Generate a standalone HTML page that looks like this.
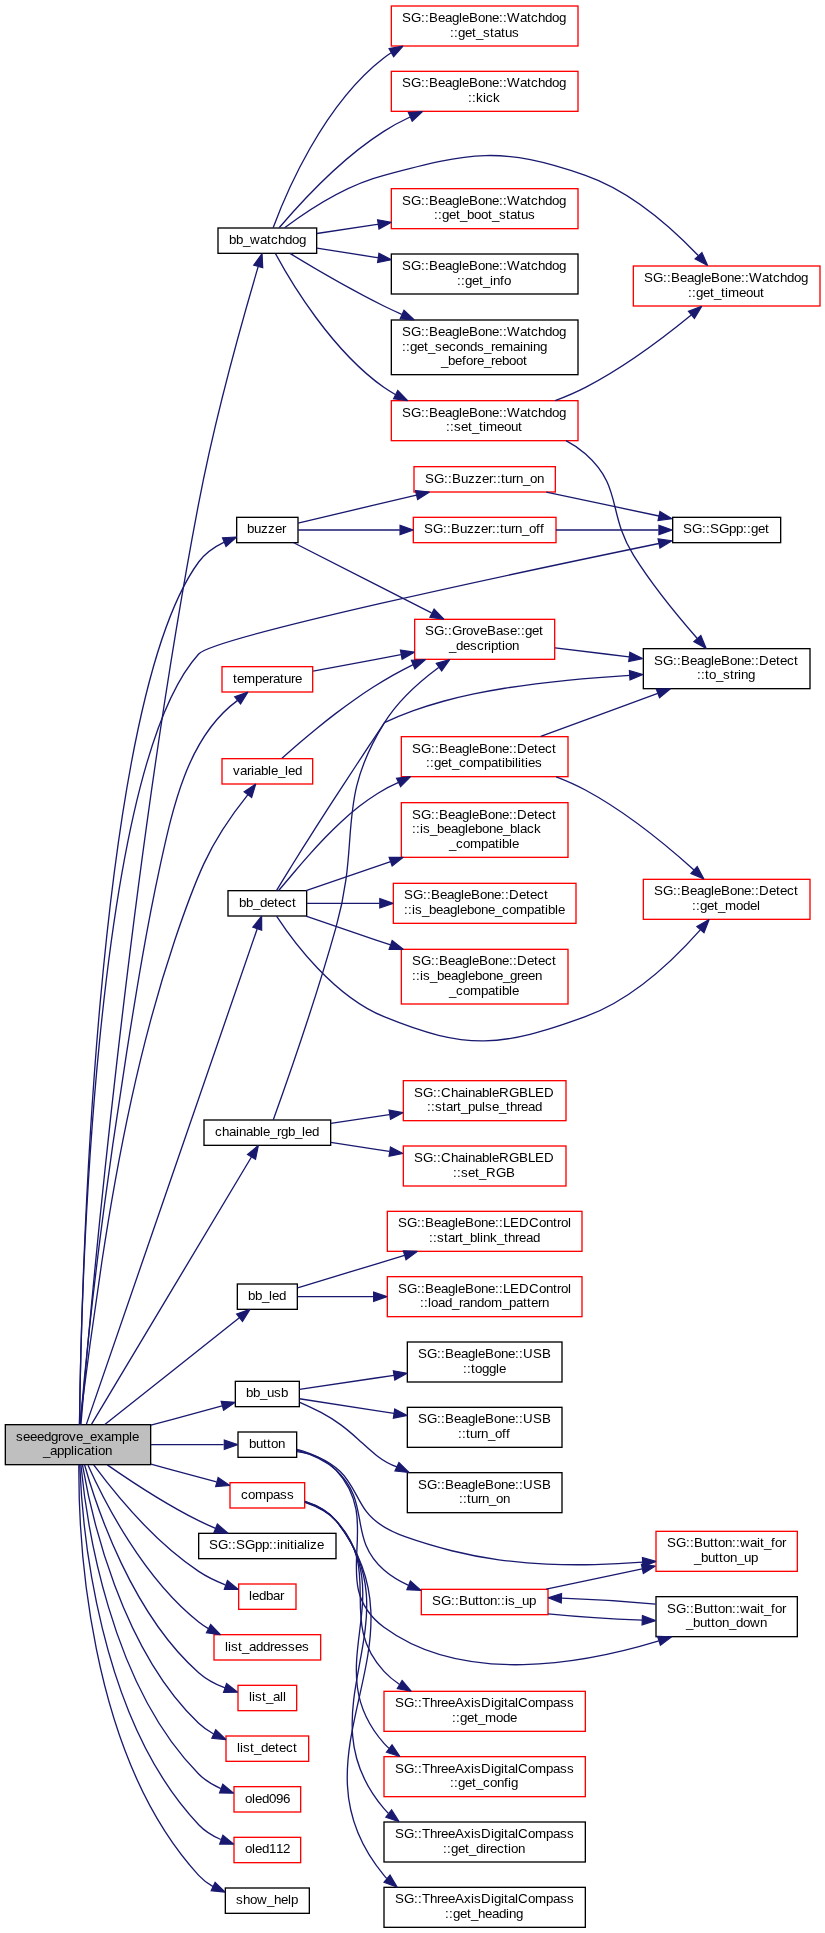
<!DOCTYPE html>
<html lang="en">
<head>
<meta charset="utf-8">
<title>seeedgrove_example_application</title>
<style>
html,body{margin:0;padding:0;background:#fff}
body{width:825px;height:1933px;overflow:hidden}
svg{display:block;will-change:transform}
text{font-family:"Liberation Sans",sans-serif;font-size:13.33px;fill:#000;white-space:pre}
.e path{fill:none;stroke:#191970;stroke-width:1.33}
.e polygon{fill:#191970;stroke:#191970;stroke-width:1.2;stroke-miterlimit:2}
.n rect{stroke-width:1.33}
</style>
</head>
<body>
<svg width="825" height="1933" viewBox="0 0 825 1933">
<rect x="0" y="0" width="825" height="1933" fill="#fff"/>
<g class="n">
<rect x="5.33" y="1424.67" width="145.33" height="40" fill="#bfbfbf" stroke="#000"/>
<text x="16 23 30 37 44 51 58 62 69 76 83 90 97 104 111 122 129 132" y="1440.67">seeedgrove_example</text>
<text x="43 50 57 64 71 74 77 84 91 95 98 105" y="1455.33">_application</text>
<rect x="218" y="228" width="98.67" height="25.33" fill="white" stroke="#000"/>
<text x="229 236 243 250 260 267 271 278 285 292 299" y="244">bb_watchdog</text>
<rect x="236.67" y="517.33" width="61.33" height="25.33" fill="white" stroke="#000"/>
<text x="247 254 261 268 275 282" y="533.33">buzzer</text>
<rect x="672.67" y="517.33" width="108" height="25.33" fill="white" stroke="#000"/>
<text x="683 692 702 706 710 719 729 736 743 747 751 758 765" y="533.33">SG::SGpp::get</text>
<rect x="222" y="666.67" width="90.67" height="25.33" fill="white" stroke="#f00"/>
<text x="233 237 244 255 262 269 273 280 284 291 295" y="682.67">temperature</text>
<rect x="222" y="758.67" width="90.67" height="25.33" fill="white" stroke="#f00"/>
<text x="233 240 247 251 254 261 268 271 278 285 288 295" y="774.67">variable_led</text>
<rect x="228" y="890.67" width="78.67" height="25.33" fill="white" stroke="#000"/>
<text x="239 246 253 260 267 274 278 285 292" y="906.67">bb_detect</text>
<rect x="204" y="1120" width="126.67" height="25.33" fill="white" stroke="#000"/>
<text x="215 222 229 236 239 246 253 260 263 270 277 281 288 295 302 305 312" y="1136">chainable_rgb_led</text>
<rect x="237.33" y="1284" width="60" height="25.33" fill="white" stroke="#000"/>
<text x="248 255 262 269 272 279" y="1300">bb_led</text>
<rect x="235.33" y="1381.33" width="64" height="25.33" fill="white" stroke="#000"/>
<text x="246 253 260 267 274 281" y="1397.33">bb_usb</text>
<rect x="238" y="1432" width="58.67" height="25.33" fill="white" stroke="#000"/>
<text x="249 256 263 267 271 278" y="1448">button</text>
<rect x="230" y="1482.67" width="74.67" height="25.33" fill="white" stroke="#f00"/>
<text x="241 248 255 266 273 280 287" y="1498.67">compass</text>
<rect x="198.67" y="1533.33" width="137.33" height="25.33" fill="white" stroke="#000"/>
<text x="209 218 228 232 236 245 255 262 269 273 277 280 287 290 294 297 304 307 310 317" y="1549.33">SG::SGpp::initialize</text>
<rect x="238.67" y="1584" width="57.33" height="25.33" fill="white" stroke="#f00"/>
<text x="249 252 259 266 273 280" y="1600">ledbar</text>
<rect x="214" y="1634.67" width="106.67" height="25.33" fill="white" stroke="#f00"/>
<text x="225 228 231 238 242 249 256 263 270 274 281 288 295 302" y="1650.67">list_addresses</text>
<rect x="238" y="1685.33" width="58.67" height="25.33" fill="white" stroke="#f00"/>
<text x="249 252 255 262 266 273 280 283" y="1701.33">list_all</text>
<rect x="226" y="1736" width="82.67" height="25.33" fill="white" stroke="#f00"/>
<text x="237 240 243 250 254 261 268 275 279 286 293" y="1752">list_detect</text>
<rect x="234" y="1786.67" width="66.67" height="25.33" fill="white" stroke="#f00"/>
<text x="245 252 255 262 269 276 283" y="1802.67">oled096</text>
<rect x="234" y="1837.33" width="66.67" height="25.33" fill="white" stroke="#f00"/>
<text x="245 252 255 262 269 276 283" y="1853.33">oled112</text>
<rect x="225.33" y="1888" width="84" height="25.33" fill="white" stroke="#000"/>
<text x="236 243 250 257 267 274 281 288 291" y="1904">show_help</text>
<rect x="391.33" y="6" width="186.67" height="40" fill="white" stroke="#f00"/>
<text x="402 411 421 425 429 438 445 452 459 462 469 478 485 492 499 503 507 520 527 531 538 545 552 559" y="22">SG::BeagleBone::Watchdog</text>
<text x="450 454 458 465 472 476 483 490 494 501 505 512" y="36.67">::get_status</text>
<rect x="391.33" y="71.33" width="186.67" height="40" fill="white" stroke="#f00"/>
<text x="402 411 421 425 429 438 445 452 459 462 469 478 485 492 499 503 507 520 527 531 538 545 552 559" y="87.33">SG::BeagleBone::Watchdog</text>
<text x="468 472 476 483 486 493" y="102">::kick</text>
<rect x="633.33" y="266" width="186.67" height="40" fill="white" stroke="#f00"/>
<text x="644 653 663 667 671 680 687 694 701 704 711 720 727 734 741 745 749 762 769 773 780 787 794 801" y="282">SG::BeagleBone::Watchdog</text>
<text x="688 692 696 703 710 714 721 725 728 739 746 753 760" y="296.67">::get_timeout</text>
<rect x="391.33" y="188.67" width="186.67" height="40" fill="white" stroke="#f00"/>
<text x="402 411 421 425 429 438 445 452 459 462 469 478 485 492 499 503 507 520 527 531 538 545 552 559" y="204.67">SG::BeagleBone::Watchdog</text>
<text x="434 438 442 449 456 460 467 474 481 488 492 499 506 510 517 521 528" y="219.33">::get_boot_status</text>
<rect x="391.33" y="254" width="186.67" height="40" fill="white" stroke="#000"/>
<text x="402 411 421 425 429 438 445 452 459 462 469 478 485 492 499 503 507 520 527 531 538 545 552 559" y="270">SG::BeagleBone::Watchdog</text>
<text x="457 461 465 472 479 483 490 493 500 504" y="284.67">::get_info</text>
<rect x="391.33" y="320" width="186.67" height="54.67" fill="white" stroke="#000"/>
<text x="402 411 421 425 429 438 445 452 459 462 469 478 485 492 499 503 507 520 527 531 538 545 552 559" y="336">SG::BeagleBone::Watchdog</text>
<text x="402 406 410 417 424 428 435 442 449 456 463 470 477 484 491 495 502 513 520 523 530 533 540" y="350.67">::get_seconds_remaining</text>
<text x="441 448 455 462 466 473 477 484 491 495 502 509 516 523" y="365.33">_before_reboot</text>
<rect x="391.33" y="400.67" width="186.67" height="40" fill="white" stroke="#f00"/>
<text x="402 411 421 425 429 438 445 452 459 462 469 478 485 492 499 503 507 520 527 531 538 545 552 559" y="416.67">SG::BeagleBone::Watchdog</text>
<text x="446 450 454 461 468 472 479 483 486 497 504 511 518" y="431.33">::set_timeout</text>
<rect x="643.33" y="648.67" width="166.67" height="40" fill="white" stroke="#000"/>
<text x="654 663 673 677 681 690 697 704 711 714 721 730 737 744 751 755 759 769 776 780 787 794" y="664.67">SG::BeagleBone::Detect</text>
<text x="697 701 705 709 716 723 730 734 738 741 748" y="679.33">::to_string</text>
<rect x="414" y="466.67" width="141.33" height="25.33" fill="white" stroke="#f00"/>
<text x="425 434 444 448 452 461 468 475 482 489 493 497 501 505 512 516 523 530 537" y="482.67">SG::Buzzer::turn_on</text>
<rect x="413.33" y="517.33" width="142.67" height="25.33" fill="white" stroke="#f00"/>
<text x="424 433 443 447 451 460 467 474 481 488 492 496 500 504 511 515 522 529 536 540" y="533.33">SG::Buzzer::turn_off</text>
<rect x="414.67" y="619.33" width="140" height="40" fill="white" stroke="#f00"/>
<text x="425 434 444 448 452 462 466 473 480 487 496 503 510 517 521 525 532 539" y="635.33">SG::GroveBase::get</text>
<text x="449 456 463 470 477 484 488 491 498 502 505 512" y="650">_description</text>
<rect x="401.33" y="736.67" width="166.67" height="40" fill="white" stroke="#f00"/>
<text x="412 421 431 435 439 448 455 462 469 472 479 488 495 502 509 513 517 527 534 538 545 552" y="752.67">SG::BeagleBone::Detect</text>
<text x="426 430 434 441 448 452 459 466 473 484 491 498 502 505 512 515 518 521 525 528 535" y="767.33">::get_compatibilities</text>
<rect x="643.33" y="879.33" width="166.67" height="40" fill="white" stroke="#f00"/>
<text x="654 663 673 677 681 690 697 704 711 714 721 730 737 744 751 755 759 769 776 780 787 794" y="895.33">SG::BeagleBone::Detect</text>
<text x="692 696 700 707 714 718 725 736 743 750 757" y="910">::get_model</text>
<rect x="401.33" y="802.67" width="166.67" height="54.67" fill="white" stroke="#f00"/>
<text x="412 421 431 435 439 448 455 462 469 472 479 488 495 502 509 513 517 527 534 538 545 552" y="818.67">SG::BeagleBone::Detect</text>
<text x="412 416 420 423 430 437 444 451 458 465 468 475 482 489 496 503 510 517 520 527 534" y="833.33">::is_beaglebone_black</text>
<text x="449 456 463 470 481 488 495 499 502 509 512" y="848">_compatible</text>
<rect x="393.33" y="883.33" width="182.67" height="40" fill="white" stroke="#f00"/>
<text x="404 413 423 427 431 440 447 454 461 464 471 480 487 494 501 505 509 519 526 530 537 544" y="899.33">SG::BeagleBone::Detect</text>
<text x="404 408 412 415 422 429 436 443 450 457 460 467 474 481 488 495 502 509 516 527 534 541 545 548 555 558" y="914">::is_beaglebone_compatible</text>
<rect x="401.33" y="949.33" width="166.67" height="54.67" fill="white" stroke="#f00"/>
<text x="412 421 431 435 439 448 455 462 469 472 479 488 495 502 509 513 517 527 534 538 545 552" y="965.33">SG::BeagleBone::Detect</text>
<text x="412 416 420 423 430 437 444 451 458 465 468 475 482 489 496 503 510 517 521 528 535" y="980">::is_beaglebone_green</text>
<text x="449 456 463 470 481 488 495 499 502 509 512" y="994.67">_compatible</text>
<rect x="403.33" y="1080.67" width="162.67" height="40" fill="white" stroke="#f00"/>
<text x="414 423 433 437 441 451 458 465 468 475 482 489 492 499 509 519 528 535 544" y="1096.67">SG::ChainableRGBLED</text>
<text x="427 431 435 442 446 453 457 461 468 475 482 485 492 499 506 510 517 521 528 535" y="1111.33">::start_pulse_thread</text>
<rect x="403.33" y="1146" width="162.67" height="40" fill="white" stroke="#f00"/>
<text x="414 423 433 437 441 451 458 465 468 475 482 489 492 499 509 519 528 535 544" y="1162">SG::ChainableRGBLED</text>
<text x="453 457 461 468 475 479 486 496 506" y="1176.67">::set_RGB</text>
<rect x="387.33" y="1211.33" width="194.67" height="40" fill="white" stroke="#f00"/>
<text x="398 407 417 421 425 434 441 448 455 458 465 474 481 488 495 499 503 510 519 529 539 546 553 557 561 568" y="1227.33">SG::BeagleBone::LEDControl</text>
<text x="429 433 437 444 448 455 459 463 470 477 480 483 490 497 504 508 515 519 526 533" y="1242">::start_blink_thread</text>
<rect x="387.33" y="1276.67" width="194.67" height="40" fill="white" stroke="#f00"/>
<text x="398 407 417 421 425 434 441 448 455 458 465 474 481 488 495 499 503 510 519 529 539 546 553 557 561 568" y="1292.67">SG::BeagleBone::LEDControl</text>
<text x="420 424 428 431 438 445 452 459 463 470 477 484 491 502 509 516 523 527 531 538 542" y="1307.33">::load_random_pattern</text>
<rect x="407.33" y="1342" width="154.67" height="40" fill="white" stroke="#000"/>
<text x="418 427 437 441 445 454 461 468 475 478 485 494 501 508 515 519 523 533 542" y="1358">SG::BeagleBone::USB</text>
<text x="463 467 471 475 482 489 496 499" y="1372.67">::toggle</text>
<rect x="407.33" y="1407.33" width="154.67" height="40" fill="white" stroke="#000"/>
<text x="418 427 437 441 445 454 461 468 475 478 485 494 501 508 515 519 523 533 542" y="1423.33">SG::BeagleBone::USB</text>
<text x="458 462 466 470 477 481 488 495 502 506" y="1438">::turn_off</text>
<rect x="407.33" y="1472.67" width="154.67" height="40" fill="white" stroke="#000"/>
<text x="418 427 437 441 445 454 461 468 475 478 485 494 501 508 515 519 523 533 542" y="1488.67">SG::BeagleBone::USB</text>
<text x="459 463 467 471 478 482 489 496 503" y="1503.33">::turn_on</text>
<rect x="656" y="1531.33" width="141.33" height="40" fill="white" stroke="#f00"/>
<text x="667 676 686 690 694 703 710 714 718 725 732 736 740 750 757 760 764 771 775 782" y="1547.33">SG::Button::wait_for</text>
<text x="694 701 708 715 719 723 730 737 744 751" y="1562">_button_up</text>
<rect x="421.33" y="1589.33" width="126.67" height="25.33" fill="white" stroke="#f00"/>
<text x="432 441 451 455 459 468 475 479 483 490 497 501 505 508 515 522 529" y="1605.33">SG::Button::is_up</text>
<rect x="656" y="1596.67" width="141.33" height="40" fill="white" stroke="#000"/>
<text x="667 676 686 690 694 703 710 714 718 725 732 736 740 750 757 760 764 771 775 782" y="1612.67">SG::Button::wait_for</text>
<text x="686 693 700 707 711 715 722 729 736 743 750 760" y="1627.33">_button_down</text>
<rect x="384" y="1691.33" width="201.33" height="40" fill="white" stroke="#f00"/>
<text x="395 404 414 418 422 430 437 441 448 455 464 471 474 481 491 494 501 504 508 515 518 528 535 546 553 560 567" y="1707.33">SG::ThreeAxisDigitalCompass</text>
<text x="452 456 460 467 474 478 485 496 503 510" y="1722">::get_mode</text>
<rect x="384" y="1756.67" width="201.33" height="40" fill="white" stroke="#f00"/>
<text x="395 404 414 418 422 430 437 441 448 455 464 471 474 481 491 494 501 504 508 515 518 528 535 546 553 560 567" y="1772.67">SG::ThreeAxisDigitalCompass</text>
<text x="450 454 458 465 472 476 483 490 497 504 508 511" y="1787.33">::get_config</text>
<rect x="384" y="1822" width="201.33" height="40" fill="white" stroke="#000"/>
<text x="395 404 414 418 422 430 437 441 448 455 464 471 474 481 491 494 501 504 508 515 518 528 535 546 553 560 567" y="1838">SG::ThreeAxisDigitalCompass</text>
<text x="443 447 451 458 465 469 476 483 486 490 497 504 508 511 518" y="1852.67">::get_direction</text>
<rect x="384" y="1887.33" width="201.33" height="40" fill="white" stroke="#000"/>
<text x="395 404 414 418 422 430 437 441 448 455 464 471 474 481 491 494 501 504 508 515 518 528 535 546 553 560 567" y="1903.33">SG::ThreeAxisDigitalCompass</text>
<text x="445 449 453 460 467 471 478 485 492 499 506 509 516" y="1918">::get_heading</text>
</g>
<g class="e">
<path d="M80.93,1424.65C89.13,1324.69 128.75,869.84 198.67,503.33 215.39,415.71 244.24,313.89 258.11,266.89"/><polygon points="253.77,265.11 262.05,253.65 262.72,267.76"/>
<path d="M79.52,1424.39C80.96,1306.48 93.41,705.7 198.67,562 205.05,553.25 214.45,546.8 224.23,542.09"/><polygon points="222.48,537.76 236.59,537 226.04,546.39"/>
<path d="M79.48,1424.41C80.67,1312.99 91.96,771.96 198.67,654 214.32,636.73 521.02,571.91 658.88,543.49"/><polygon points="658.07,538.89 672.07,540.77 659.95,548.04"/>
<path d="M80.2,1424.5C82.82,1393.35 85.84,1362.17 89.19,1330.99 92.53,1299.89 96.21,1268.78 100.17,1237.7 104.12,1206.64 108.35,1175.6 112.8,1144.62 117.26,1113.59 121.95,1082.62 126.79,1051.72 131.66,1020.75 136.62,989.86 142,959.03 147.38,928.26 153.2,897.54 159.89,866.81 166.54,836.25 173.34,805.15 184.42,776.22 195.61,747 211.42,719.57 237.64,700.4"/><polygon points="240.58,704.02 248,692 234.7,696.77"/>
<path d="M79.5,1424.6C83.01,1397.46 86.54,1370.24 90.24,1342.99 93.92,1315.83 97.76,1288.65 101.9,1261.51 106.03,1234.38 110.46,1207.3 115.32,1180.3 120.19,1153.28 125.49,1126.35 131.36,1099.56 137.24,1072.74 143.68,1046.07 150.84,1019.6 158,993.11 165.88,966.82 174.6,940.8 183.31,914.8 192.41,888.78 203.83,863.88 215.24,839.01 230.68,816.15 247.91,794.65"/><polygon points="251.67,797.41 255.8,783.9 244.15,791.88"/>
<path d="M86.43,1424.11C115.44,1340.17 225.11,1021.74 257.16,928.97"/><polygon points="252.85,927.15 261.61,916.07 261.68,930.19"/>
<path d="M91.59,1424.2C124.68,1368.88 215.81,1216.56 251.44,1156.99"/><polygon points="247.49,1154.51 258.35,1145.45 255.51,1159.29"/>
<path d="M104.51,1424.72C139.71,1396.86 203.35,1346.27 239.33,1317.8"/><polygon points="236.65,1314.05 249.97,1309.37 242.48,1321.34"/>
<path d="M150.97,1425.23C174.92,1418.72 200.89,1411.67 222.08,1405.92"/><polygon points="221.16,1401.33 235.25,1402.35 223.61,1410.35"/>
<path d="M150.97,1444.67C175.53,1444.67 202.21,1444.67 223.69,1444.67"/><polygon points="224.31,1440 237.64,1444.67 224.31,1449.33"/>
<path d="M150.97,1464.11C172.85,1470.05 196.43,1476.45 216.51,1481.89"/><polygon points="218.13,1477.51 229.77,1485.51 215.68,1486.51"/>
<path d="M107.29,1464.83C130.88,1481.24 165.93,1504.31 198.67,1520.67 204.03,1523.35 209.75,1525.91 215.49,1528.31"/><polygon points="217.35,1524.03 228.01,1533.28 213.91,1532.69"/>
<path d="M93.69,1464.95C114.15,1492.48 154.16,1541.69 198.67,1571.33 206.77,1576.73 216.17,1581.19 225.35,1584.77"/><polygon points="227.43,1580.57 238.43,1589.43 224.31,1589.36"/>
<path d="M88.01,1465.23C104.41,1501.76 143.36,1578.27 198.67,1622 201.69,1624.4 204.97,1626.59 208.4,1628.57"/><polygon points="210.65,1624.48 220.47,1634.64 206.45,1632.83"/>
<path d="M84.55,1464.79C96.91,1508.67 132.08,1613.76 198.67,1672.67 206.19,1679.32 215.64,1684.29 225.05,1687.99"/><polygon points="226.55,1683.57 237.68,1692.27 223.56,1692.41"/>
<path d="M82.44,1464.93C91.21,1515.59 120.88,1648.95 198.67,1723.33 203.05,1727.52 208.2,1731.04 213.65,1733.97"/><polygon points="215.71,1729.79 225.92,1739.55 211.85,1738.29"/>
<path d="M80.89,1464.75C86.33,1521.29 109.35,1683.57 198.67,1774 204.83,1780.24 212.68,1784.96 220.83,1788.53"/><polygon points="222.76,1784.27 233.67,1793.24 219.55,1793.03"/>
<path d="M79.77,1465.04C82.2,1527.45 97.93,1718.17 198.67,1824.67 204.75,1831.09 212.63,1835.91 220.84,1839.51"/><polygon points="222.87,1835.28 233.8,1844.21 219.68,1844.05"/>
<path d="M78.88,1464.8C78.44,1532.13 86.11,1752.23 198.67,1875.33 202.76,1879.81 207.72,1883.49 213.08,1886.55"/><polygon points="215.13,1882.35 225.24,1892.21 211.19,1890.81"/>
<path d="M273.13,227.81C285.3,194.88 322.55,105.25 383.77,58 386.15,56.15 388.65,54.4 391.22,52.75"/><polygon points="389.09,48.6 402.99,46.15 393.65,56.73"/>
<path d="M279.17,227.75C298.02,205.67 339.83,159.36 383.82,131.33 391.98,126.07 400.94,121.28 410.05,117"/><polygon points="408.41,112.61 422.49,111.48 412.19,121.15"/>
<path d="M284.63,227.73C305.81,211.92 345.13,185.32 384,175.33 470.43,152.15 500.84,145.87 585.33,175.33 630.72,191.15 672.44,228.52 698.23,255.48"/><polygon points="701.96,252.63 707.6,265.57 695.12,258.97"/>
<path d="M316.84,233.49C335.07,230.78 356.66,227.53 378.11,224.31"/><polygon points="377.59,219.75 391.48,222.32 379.01,228.98"/>
<path d="M316.84,248.16C335.07,251 356.66,254.37 378.11,257.71"/><polygon points="378.97,253.19 391.48,259.78 377.6,262.43"/>
<path d="M289.96,253.44C312.76,267.35 350.27,289.3 383.8,306 389.58,308.8 395.62,311.6 401.72,314.33"/><polygon points="403.96,310.23 414.29,319.87 400.2,318.77"/>
<path d="M275.47,253.6C290.87,282.23 331.39,350.08 383.78,387.33 387.43,389.89 391.29,392.27 395.29,394.47"/><polygon points="397.74,390.48 407.62,400.57 393.59,398.84"/>
<path d="M555.19,400.57C565.58,396.68 576,392.25 585.54,387.33 624.32,367.32 664.14,337.21 691.24,315"/><polygon points="688.44,311.27 701.68,306.32 694.41,318.44"/>
<path d="M565.95,440.71C573.03,444.41 579.71,448.8 585.57,454 622.84,487.09 607.11,513.12 633.6,555.33 652.41,585.32 677.99,616.43 697.28,638.44"/><polygon points="700.83,635.41 706.2,648.48 693.85,641.61"/>
<path d="M298.07,523.07C328.4,515.91 376.75,504.49 416.44,495.12"/><polygon points="415.48,490.55 429.53,492.03 417.63,499.64"/>
<path d="M298.07,530C324.24,530 363.94,530 399.83,530"/><polygon points="400.05,525.33 413.39,530 400.05,534.67"/>
<path d="M293.71,542.76C327.33,559.88 387.88,590.72 431.52,612.95"/><polygon points="434.15,609.04 443.91,619.25 429.91,617.36"/>
<path d="M546.23,492.12C580.6,499.4 623.68,508.52 658.97,516"/><polygon points="659.96,511.44 672.04,518.77 658.03,520.57"/>
<path d="M555.95,530C588.31,530 626.59,530 658.53,530"/><polygon points="658.92,525.33 672.25,530 658.92,534.67"/>
<path d="M555.03,647.81C578.12,650.64 604.26,653.84 629.01,656.88"/><polygon points="629.88,652.28 642.55,658.55 628.73,661.55"/>
<path d="M313.15,671.04C338.49,666.32 371.05,660.25 400.91,654.69"/><polygon points="400.43,650.04 414.39,652.17 402.13,659.21"/>
<path d="M282,758.3C287.74,753.18 293.53,748.09 299.37,743.07 305.21,738.05 311.11,733.09 317.07,728.22 323.04,723.35 329.07,718.56 335.19,713.88 341.31,709.2 347.51,704.63 353.8,700.2 360.09,695.76 366.48,691.45 372.97,687.31 379.46,683.17 386.05,679.18 392.75,675.38 399.44,671.59 406.24,667.97 413.17,664.57"/><polygon points="414.94,668.88 425.5,659.5 411.39,660.25"/>
<path d="M276.6,890.3C280.92,883.21 285.27,876.13 289.65,869.08 294.02,862.02 298.42,854.98 302.85,847.95 307.28,840.93 311.73,833.92 316.19,826.92 320.66,819.92 325.15,812.94 329.66,805.96 334.17,798.99 338.69,792.03 343.23,785.07 347.77,778.12 352.33,771.18 356.89,764.24 361.46,757.3 366.03,750.38 370.62,743.45 375.21,736.53 379.8,729.61 384.4,722.7 393.9,718.21 403.58,714.24 413.41,710.69 423.25,707.13 433.25,704.01 443.35,701.24 453.43,698.47 463.62,696.06 473.89,693.92 484.12,691.79 494.43,689.92 504.78,688.25 515.11,686.59 525.48,685.14 535.87,683.84 546.26,682.55 556.67,681.41 567.09,680.4 577.52,679.38 587.95,678.48 598.37,677.65 608.84,676.82 619.28,676.06 629.69,675.34"/><polygon points="629.99,679.99 643,674.5 629.4,670.68"/>
<path d="M278.7,890.5C283.66,884.61 288.64,878.65 293.7,872.71 298.7,866.82 303.77,860.93 308.94,855.13 314.1,849.33 319.35,843.61 324.73,838.03 330.12,832.44 335.64,826.98 341.32,821.72 347.03,816.45 352.91,811.37 358.98,806.58 365.1,801.77 371.42,797.27 378.01,793.2 384.59,789.14 391.44,785.5 398.6,782.42"/><polygon points="400.64,786.62 410.6,776.6 396.57,778.22"/>
<path d="M276.56,916.04C292.93,941.03 333.33,995.93 384,1016.67 466.81,1050.55 501.28,1047.35 585.33,1016.67 632.57,999.45 674.91,958.48 700.29,929.83"/><polygon points="696.91,926.6 709.13,919.52 703.99,932.68"/>
<path d="M306.05,890.56C329.49,882.55 360.81,871.85 390.61,861.68"/><polygon points="389.13,857.25 403.25,857.36 392.15,866.08"/>
<path d="M307.04,903.33C327.48,903.33 353.71,903.33 379.64,903.33"/><polygon points="379.81,898.67 393.15,903.33 379.81,908"/>
<path d="M306.05,916.11C329.49,924.12 360.81,934.81 390.61,944.99"/><polygon points="392.15,940.59 403.25,949.31 389.13,949.41"/>
<path d="M540.76,736.48C575.56,723.68 620.8,707.03 657.76,693.43"/><polygon points="656.31,689 670.43,688.76 659.53,697.75"/>
<path d="M556.21,776.85C566.23,780.69 576.21,785.08 585.33,790 626.04,811.91 667,845.71 693.97,869.92"/><polygon points="697.21,866.56 703.91,879.01 690.92,873.45"/>
<path d="M273.32,1119.81C284.85,1087.65 315.35,1001.03 336,927.33 361.29,837.54 335.08,802.82 384,723.33 397.6,701.11 419.12,681.85 438.65,667.41"/><polygon points="436.27,663.39 449.84,659.48 441.67,671"/>
<path d="M330.76,1123.42C349.07,1120.7 369.53,1117.63 389.37,1114.67"/><polygon points="389.08,1110.07 402.97,1112.65 390.52,1119.3"/>
<path d="M330.76,1142.31C349.07,1145.16 369.53,1148.34 389.37,1151.4"/><polygon points="390.48,1146.94 402.97,1153.53 389.09,1156.17"/>
<path d="M297.61,1287.85C324.95,1279.53 367.2,1266.68 404.49,1255.33"/><polygon points="403.33,1250.8 417.45,1251.39 406.05,1259.73"/>
<path d="M297.61,1296.67C317.57,1296.67 345.48,1296.67 373.6,1296.67"/><polygon points="373.63,1292 386.96,1296.67 373.63,1301.33"/>
<path d="M299.43,1389.42C324.19,1385.76 360.31,1380.36 394,1375.31"/><polygon points="393.36,1370.78 407.25,1373.34 394.79,1379.99"/>
<path d="M299.43,1398.78C324.19,1402.67 360.31,1408.25 394,1413.46"/><polygon points="394.75,1408.94 407.25,1415.51 393.37,1418.17"/>
<path d="M299.8,1402.3C306.97,1405.48 314.09,1408.79 320.97,1412.46 327.91,1416.16 334.59,1420.24 340.87,1424.89 347.14,1429.53 353.06,1434.67 358.89,1439.93 364.71,1445.2 370.39,1450.64 376.54,1455.41 382.68,1460.18 389.28,1464.26 396.95,1466.79"/><polygon points="394.95,1471.01 409,1472.5 398.95,1462.58"/>
<path d="M297,1451.6C312.94,1453.55 328.32,1460.48 339.99,1471.24 351.73,1482.07 356.77,1498.5 366.09,1511.23 375.49,1524.04 390.17,1531.39 405.76,1536.93 421.11,1542.39 436.48,1546.88 451.75,1550.74 467.24,1554.65 482.98,1557.62 498.89,1559.79 514.7,1561.95 530.68,1563.33 546.71,1564.07 562.7,1564.81 578.74,1564.92 594.73,1564.55 610.8,1564.17 626.82,1563.32 642.69,1562.13"/><polygon points="642.94,1566.79 656,1561.4 642.43,1557.47"/>
<path d="M296.77,1450.16C309.95,1453.92 325.11,1460.08 336,1470 372.05,1503.28 347.17,1537.6 384,1570 391.08,1576.15 399.35,1581.11 408.05,1585.13"/><polygon points="410.39,1581.04 421.01,1590.36 406.89,1589.69"/>
<path d="M296.79,1449.28C310.29,1452.83 325.73,1459.08 336,1470 385.69,1523.28 325.65,1583.8 384,1627.33 463.57,1686.03 584.38,1663.63 658.83,1640.93"/><polygon points="657.57,1636.44 671.69,1636.87 660.4,1645.33"/>
<path d="M546.23,1589.21C575.32,1583.05 610.63,1575.57 642.19,1568.89"/><polygon points="641.41,1564.29 655.43,1566.09 643.35,1573.43"/>
<path d="M548.08,1613.83C576.81,1616.65 611.3,1618.97 642.19,1620.2"/><polygon points="642.43,1615.53 655.59,1620.67 642.09,1624.87"/>
<path d="M655.59,1604.15C626.1,1601.41 591.68,1599.24 561.55,1598.2"/><polygon points="561.28,1602.87 548.08,1597.81 561.55,1593.53"/>
<path d="M305,1502.48C316.2,1506.25 327.73,1511.99 336,1520.67 384.08,1571.59 336.51,1619.85 384,1671.33 388.51,1676.19 393.69,1680.45 399.27,1684.23"/><polygon points="402.07,1680.45 411.17,1691.25 397.32,1688.49"/>
<path d="M304.81,1501.79C316.25,1505.52 328,1511.4 336,1520.67 401.79,1597.3 316.85,1667.9 384,1743.33 385.59,1745.11 387.27,1746.77 389.03,1748.37"/><polygon points="392.05,1744.8 399.95,1756.52 386.47,1752.28"/>
<path d="M304.72,1501.45C316.29,1505.16 328.15,1511.12 336,1520.67 418.07,1620.87 300.15,1709.96 384,1808.67 385.36,1810.27 386.81,1811.79 388.32,1813.24"/><polygon points="391.61,1809.89 399.21,1821.8 385.85,1817.23"/>
<path d="M304.88,1501.32C316.48,1505.01 328.29,1511 336,1520.67 434.79,1645.03 282.25,1753.38 384,1875.33 384.96,1876.48 385.96,1877.59 387,1878.65"/><polygon points="390.03,1875.09 397.27,1887.23 384.04,1882.25"/>
</g>
</svg>
</body>
</html>
